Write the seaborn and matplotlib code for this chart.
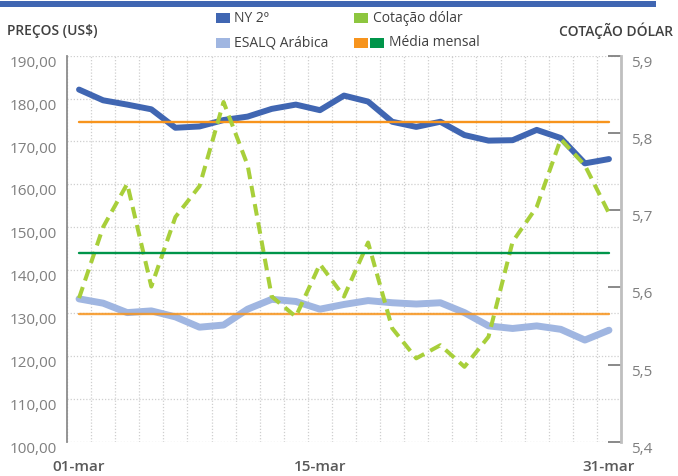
import pandas as pd
import matplotlib.pyplot as plt
import seaborn as sns
from matplotlib.patches import Rectangle
from matplotlib.ticker import FuncFormatter
from matplotlib.transforms import ScaledTranslation

# Dados (leitura aproximada do gráfico)
datas = ["01-mar", "02-mar", "03-mar", "06-mar", "07-mar", "08-mar", "09-mar", "10-mar",
         "13-mar", "14-mar", "15-mar", "16-mar", "17-mar", "20-mar", "21-mar", "22-mar",
         "23-mar", "24-mar", "27-mar", "28-mar", "29-mar", "30-mar", "31-mar"]
ny_2 = [182.1, 179.6, 178.6, 177.5, 173.2, 173.5, 175.0, 175.8, 177.6, 178.6, 177.3, 180.7,
        179.3, 174.6, 173.4, 174.6, 171.5, 170.2, 170.3, 172.7, 170.8, 164.9, 165.9]
esalq = [133.3, 132.3, 130.1, 130.5, 129.1, 126.7, 127.2, 130.9, 133.2, 132.7, 130.9, 132.0,
         132.9, 132.4, 132.1, 132.4, 130.1, 127.0, 126.4, 127.0, 126.2, 123.7, 126.0]
dolar = [5.586, 5.678, 5.734, 5.601, 5.691, 5.731, 5.840, 5.758, 5.588, 5.562, 5.630, 5.588,
         5.658, 5.547, 5.508, 5.525, 5.497, 5.536, 5.659, 5.704, 5.792, 5.758, 5.696]
media_ny = 174.6
media_esalq = 129.8
media_dolar = 5.645
rotulos_x = ["01-mar", "15-mar", "31-mar"]

AZUL = "#4066B2"
AZUL_CLARO = "#A0B6E1"
VERDE_DOLAR = "#A8CF3A"
LARANJA = "#F7941D"
VERDE = "#00954A"
CINZA = "#7F7F7F"

sns.set_style("white")
plt.rcParams["font.family"] = ["Open Sans", "DejaVu Sans"]

n = len(datas)
df = pd.DataFrame({"pos": range(n), "data": datas, "ny": ny_2, "esalq": esalq, "dolar": dolar})
df["media_ny"] = media_ny
df["media_esalq"] = media_esalq
df["media_dolar"] = media_dolar

fig = plt.figure(figsize=(6.78, 4.76), dpi=100)
ax = fig.add_axes([67 / 678, 1 - 441.7 / 476, (621 - 67) / 678, (441.7 - 55.7) / 476])
ax2 = ax.twinx()

# eixo esquerdo: preços
sns.lineplot(data=df, x="pos", y="ny", ax=ax, color=AZUL, lw=4.3, solid_capstyle="round")
sns.lineplot(data=df, x="pos", y="esalq", ax=ax, color=AZUL_CLARO, lw=5, solid_capstyle="round")
sns.lineplot(data=df, x="pos", y="media_ny", ax=ax, color=LARANJA, lw=1.7)
sns.lineplot(data=df, x="pos", y="media_esalq", ax=ax, color=LARANJA, lw=1.7, alpha=0.85)

# eixo direito: cotação do dólar
sns.lineplot(data=df, x="pos", y="dolar", ax=ax2, color=VERDE_DOLAR, lw=2.9,
             linestyle=(0, (2.9, 1.7)), dash_capstyle="butt")
sns.lineplot(data=df, x="pos", y="media_dolar", ax=ax2, color=VERDE, lw=1.7)

ax.set_xlim(-0.5, n - 0.5)
ax.set_ylim(100, 190)
ax.set_yticks(range(100, 191, 10))
ax.yaxis.set_major_formatter(FuncFormatter(lambda v, _: f"{v:.2f}".replace(".", ",")))
ax.set_xticks([datas.index(r) for r in rotulos_x])
ax.set_xticklabels(rotulos_x)
ax.set_xticks([i - 0.5 for i in range(n + 1)], minor=True)
ax.set_xlabel("")
ax.set_ylabel("")
ax.grid(axis="y", which="major", color="#CFCFCF", lw=0.9, linestyle=(0, (1, 1.5)))
ax.grid(axis="x", which="minor", color="#CFCFCF", lw=0.9, linestyle=(0, (1, 1.5)))
ax.tick_params(axis="y", length=0, pad=7, labelsize=11, labelcolor=CINZA)
ax.tick_params(axis="x", which="both", length=0, pad=13, labelsize=11, labelcolor="#595959")
for lab in ax.get_xticklabels():
    lab.set_fontweight("semibold")
for s in ["top", "right", "bottom"]:
    ax.spines[s].set_visible(False)
ax.spines["left"].set_color("#8C8C8C")
ax.spines["left"].set_linewidth(1.3)

ax2.set_ylim(5.4, 5.9)
ax2.set_yticks([5.4, 5.5, 5.6, 5.7, 5.8, 5.9])
ax2.yaxis.set_major_formatter(FuncFormatter(lambda v, _: f"{v:.1f}".replace(".", ",")))
ax2.set_ylabel("")
ax2.tick_params(axis="y", direction="in", length=9.5, width=1.3, color="#808080",
                pad=7, labelsize=11, labelcolor=CINZA)
for s in ["top", "left", "bottom"]:
    ax2.spines[s].set_visible(False)
ax2.spines["right"].set_color("#BFBFBF")
ax2.spines["right"].set_linewidth(2)

# rótulos um pouco abaixo das marcas, como no original
desloca = ScaledTranslation(0, -4 / 72, fig.dpi_scale_trans)
for lab in ax.get_yticklabels() + ax2.get_yticklabels():
    lab.set_transform(lab.get_transform() + desloca)

# faixa azul no topo
fig.add_artist(Rectangle((0, 1 - 7 / 476), 656 / 678, 6 / 476, transform=fig.transFigure,
                         color=AZUL, lw=0))

# títulos dos eixos
fig.text(7 / 678, 1 - 31 / 476, "PREÇOS (US$)", fontsize=10, color="#404040",
         fontweight="semibold", va="center", ha="left")
fig.text(673 / 678, 1 - 31 / 476, "COTAÇÃO DÓLAR", fontsize=10, color="#404040",
         fontweight="semibold", va="center", ha="right")

# legenda
def quadrado(x, y, cor):
    fig.add_artist(Rectangle((x / 678, 1 - (y + 10) / 476), 14 / 678, 10 / 476,
                             transform=fig.transFigure, color=cor, lw=0))

def texto(x, y, t):
    fig.text(x / 678, 1 - y / 476, t, fontsize=10, color="#404040", va="center", ha="left")

quadrado(216, 13, AZUL)
texto(234, 18, "NY 2º")
quadrado(216, 38, AZUL_CLARO)
texto(234, 43, "ESALQ Arábica")
quadrado(354, 13, "#8DC63F")
texto(373, 18, "Cotação dólar")
quadrado(354, 38, LARANJA)
quadrado(370, 38, VERDE)
texto(389, 43, "Média mensal")

fig.savefig("out.png", dpi=100)
